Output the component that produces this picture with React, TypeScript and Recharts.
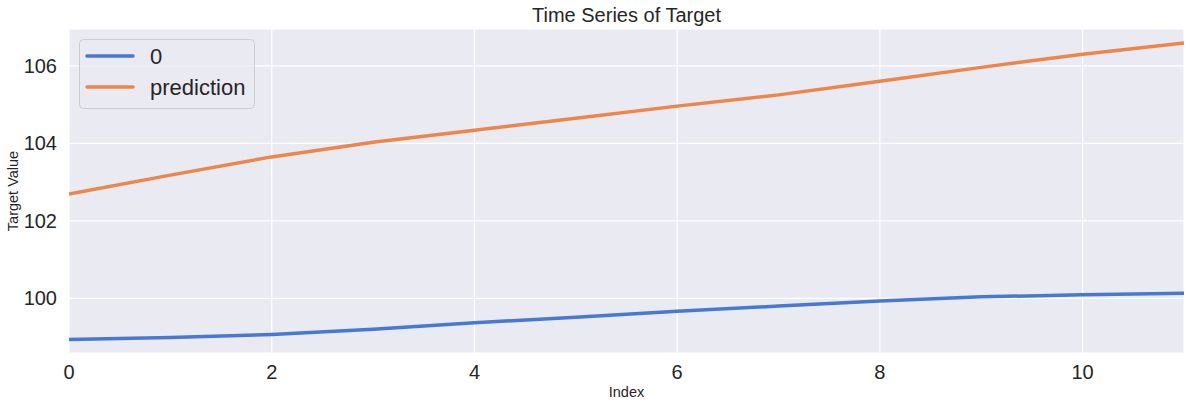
import React from "react"
import {
  CartesianGrid,
  Legend,
  Line,
  LineChart,
  XAxis,
  YAxis,
} from "recharts"

const indexValues = [0, 1, 2, 3, 4, 5, 6, 7, 8, 9, 10, 11]
const actualValues = [98.94, 98.99, 99.07, 99.2, 99.37, 99.51, 99.67, 99.8, 99.93, 100.04, 100.09, 100.13]
const predictionValues = [102.69, 103.18, 103.65, 104.03, 104.34, 104.65, 104.96, 105.25, 105.6, 105.96, 106.3, 106.59]
const xTicks = [0, 2, 4, 6, 8, 10]
const yTicks = [100, 102, 104, 106]

const data = indexValues.map((idx, i) => ({
  index: idx,
  "0": actualValues[i],
  prediction: predictionValues[i],
}))

const FONT = '"Liberation Sans", Arial, sans-serif'
const TEXT = "#262626"
const BLUE = "#4878d0"
const ORANGE = "#ee854a"

const LegendBox = ({ payload }: any) => {
  const items = payload || []
  return (
    <svg width={176} height={70} style={{ display: "block" }}>
      <rect
        x={0.5}
        y={0.5}
        width={175}
        height={69}
        rx={4}
        fill="rgba(234,234,242,0.8)"
        stroke="#cccccc"
      />
      {items.map((entry: any, i: number) => {
        const cy = 17 + i * 31
        return (
          <g key={entry.value}>
            <line x1={8} x2={54} y1={cy} y2={cy} stroke={entry.color} strokeWidth={3.5} strokeLinecap="round" />
            <text x={71} y={cy} dominantBaseline="central" fontSize={22} fill={TEXT} fontFamily={FONT}>
              {entry.value}
            </text>
          </g>
        )
      })}
    </svg>
  )
}

export default function App() {
  return (
    <div style={{ position: "absolute", left: 0, top: 0, width: 1191, height: 408, background: "#fff" }}>
      <div
        style={{
          position: "absolute",
          left: 69,
          width: 1115,
          top: 3,
          textAlign: "center",
          fontFamily: FONT,
          fontSize: 20,
          color: TEXT,
          lineHeight: "24px",
        }}
      >
        Time Series of Target
      </div>
      <LineChart
        width={1191}
        height={408}
        data={data}
        margin={{ top: 29, right: 7, left: 0, bottom: 0 }}
      >
        <CartesianGrid fill="#eaeaf2" stroke="#ffffff" strokeWidth={1.2} />
        <XAxis
          dataKey="index"
          type="number"
          domain={[0, 11]}
          ticks={xTicks}
          allowDataOverflow
          axisLine={false}
          tickLine={false}
          tickSize={0}
          tickMargin={12}
          height={55}
          tick={{ fontSize: 20, fill: TEXT, fontFamily: FONT }}
          label={(props: any) => {
            const vb = props.viewBox
            return (
              <text
                x={vb.x + vb.width / 2}
                y={vb.y + 39}
                textAnchor="middle"
                dominantBaseline="central"
                fontSize={14.5}
                fill={TEXT}
                fontFamily={FONT}
              >
                Index
              </text>
            )
          }}
        />
        <YAxis
          type="number"
          domain={[98.59, 106.95]}
          ticks={yTicks}
          allowDataOverflow
          axisLine={false}
          tickLine={false}
          tickSize={0}
          tickMargin={12}
          width={69}
          tick={{ fontSize: 20, fill: TEXT, fontFamily: FONT }}
          label={(props: any) => {
            const vb = props.viewBox
            const cx = vb.x + 13
            const cy = vb.y + vb.height / 2
            return (
              <text
                x={cx}
                y={cy}
                transform={`rotate(-90 ${cx} ${cy})`}
                textAnchor="middle"
                dominantBaseline="central"
                fontSize={14.5}
                fill={TEXT}
                fontFamily={FONT}
              >
                Target Value
              </text>
            )
          }}
        />
        <Legend
          layout="horizontal"
          align="center"
          verticalAlign="middle"
          wrapperStyle={{ left: 79, top: 39, width: 176, height: 70 }}
          content={LegendBox}
        />
        <Line
          type="linear"
          dataKey="0"
          stroke={BLUE}
          strokeWidth={3.5}
          dot={false}
          activeDot={false}
          isAnimationActive={false}
        />
        <Line
          type="linear"
          dataKey="prediction"
          stroke={ORANGE}
          strokeWidth={3.5}
          dot={false}
          activeDot={false}
          isAnimationActive={false}
        />
      </LineChart>
    </div>
  )
}
